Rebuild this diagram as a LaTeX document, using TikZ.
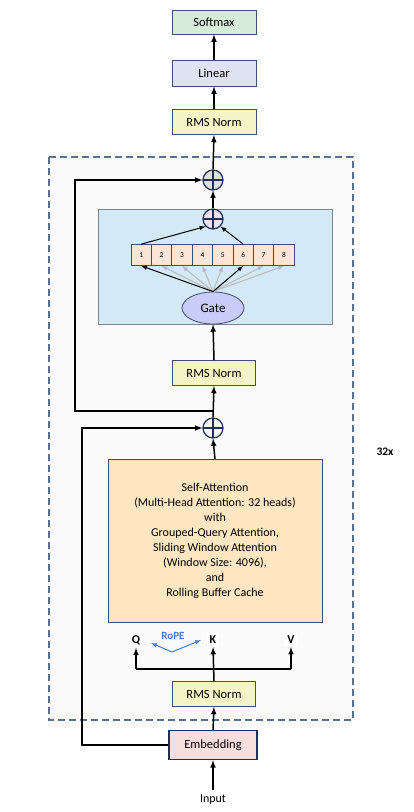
\documentclass[tikz,border=0pt]{standalone}
\usepackage{fontspec}
\setmainfont{Carlito}
\usepackage{tikz}
\usetikzlibrary{shapes.geometric}

\definecolor{blockline}{HTML}{3F4F70}
\definecolor{softmaxfill}{HTML}{D6ECD9}
\definecolor{linearfill}{HTML}{DFE2F3}
\definecolor{normfill}{HTML}{F4F4C6}
\definecolor{embedfill}{HTML}{F9DEDE}
\definecolor{attnfill}{HTML}{FDE6C1}
\definecolor{moefill}{HTML}{D3E9F6}
\definecolor{expertfill}{HTML}{FBE5D6}
\definecolor{gatefill}{HTML}{C9CCF6}
\definecolor{plusline}{HTML}{1F2F55}
\definecolor{ropeblue}{HTML}{4A7BD0}
\definecolor{layerline}{HTML}{5C6F8C}

\tikzset{
  block/.style={draw=blockline, line width=0.9pt, minimum width=84pt, minimum height=25pt,
    inner sep=0pt, font=\fontsize{12.5}{14}\selectfont},
  addnode/.style={circle, draw=plusline, line width=1.2pt, minimum size=20pt, inner sep=0pt,
    path picture={\draw[plusline, line width=1.2pt]
      (path picture bounding box.north) -- (path picture bounding box.south)
      (path picture bounding box.west) -- (path picture bounding box.east);}},
  expert/.style={draw=blockline, fill=expertfill, line width=0.7pt, minimum width=20.4pt,
    minimum height=21pt, inner sep=0pt, font=\fontsize{7.5}{8}\selectfont},
  flow/.style={line width=1.5pt, -latex},
  route/.style={line width=1pt, -latex},
  qkv/.style={fill=white, font=\fontsize{12}{14}\selectfont\bfseries, inner sep=3pt},
}

\begin{document}
\begin{tikzpicture}[x=1pt, y=-1pt]
  \useasboundingbox (0,0) rectangle (414,812);

  % Repeated layer
  \draw[draw=layerline, fill=gray!4, dash pattern=on 7pt off 4pt, line width=1.1pt] (49,157) rectangle (353,720);
  \node[font=\fontsize{11.5}{13}\selectfont\bfseries] (repeat) at (385,452) {32x};

  % Mixture of experts
  \draw[draw=blockline!70, fill=moefill, line width=0.8pt] (98,209) rectangle (332,324);

  % Head
  \node[block, fill=softmaxfill, minimum height=24pt] (softmax) at (214,22) {Softmax};
  \node[block, fill=linearfill, minimum height=26pt] (linear) at (214,73) {Linear};
  \node[block, fill=normfill] (norm3) at (214,122) {RMS Norm};

  % Residual adds
  \node[addnode, fill=gray!25] (topplus) at (213,180) {};
  \node[addnode, fill=violet!12] (moeplus) at (213,219) {};
  \node[addnode, fill=gray!6] (midplus) at (213,428) {};

  % Experts and gate
  \foreach \i in {1,...,8}
    \node[expert] (e\i) at ({120.8+20.4*\i},255) {\i};
  \node[ellipse, draw=blockline, fill=gatefill, line width=0.8pt, minimum width=62pt,
    minimum height=32pt, inner sep=0pt, font=\fontsize{13}{15}\selectfont] (gate) at (213,308) {Gate};

  \node[block, fill=normfill, minimum width=83pt] (norm2) at (214,373) {RMS Norm};

  % Attention block
  \node[block, fill=attnfill, minimum width=214pt, minimum height=163pt, align=center,
    font=\fontsize{12}{15}\selectfont] (attn) at (215,541)
    {Self-Attention\\(Multi-Head Attention: 32 heads)\\with\\Grouped-Query Attention,\\
     Sliding Window Attention\\(Window Size: 4096),\\and\\Rolling Buffer Cache};

  % Q K V
  \node[qkv] (q) at (136,640) {Q};
  \node[qkv] (k) at (213,640) {K};
  \node[qkv] (v) at (291,640) {V};
  \node[font=\fontsize{11}{13}\selectfont\bfseries, text=ropeblue] (rope) at (173,636) {RoPE};
  \coordinate (ropetip) at (172,652);
  \coordinate (ropeL) at (151,643);
  \coordinate (ropeR) at (201,640);
  \draw[ropeblue, line width=1pt, -latex] (ropetip) -- (ropeL);
  \draw[ropeblue, line width=1pt, -latex] (ropetip) -- (ropeR);

  \node[block, fill=normfill, minimum width=83pt] (norm1) at (214,694) {RMS Norm};
  \node[block, fill=embedfill, draw=plusline, line width=1.4pt, minimum width=88pt,
    minimum height=29pt] (embed) at (213,745) {Embedding};
  \node[font=\fontsize{12}{14}\selectfont, inner sep=5pt] (input) at (213,800) {Input};

  % Main path
  \draw[flow] (input.north) -- (embed.south);
  \draw[flow] (embed.north) -- (norm1.south);
  \draw[flow] (norm1.north) -- (k.south);
  \coordinate (qfork) at (136,669);
  \coordinate (vfork) at (291,669);
  \draw[line width=1.5pt] (qfork) -- (vfork);
  \draw[flow] (qfork) -- (q.south);
  \draw[flow] (vfork) -- (v.south);
  \draw[flow] (attn.north) -- (midplus.south);
  \draw[flow] (midplus.north) -- (norm2.south);
  \draw[flow] (norm2.north) -- (gate.south);

  % Routing
  \foreach \i in {2,3,4,5,7,8}
    \draw[route, gray!55] (gate.north) -- (e\i.south);
  \draw[route] (gate.north) -- (e1.south);
  \draw[route] (gate.north) -- (e6.south);
  \draw[route] (e1.north) -- (moeplus.south west);
  \draw[route] (e6.north) -- (moeplus.south east);

  \draw[flow] (moeplus.north) -- (topplus.south);
  \draw[flow] (topplus.north) -- (norm3.south);
  \draw[flow] (norm3.north) -- (linear.south);
  \draw[flow] (linear.north) -- (softmax.south);

  % Skip connections
  \coordinate (skipA) at (213,411);
  \coordinate (skipAcorner) at (75,411);
  \draw[flow] (skipA) -- (skipAcorner) |- (topplus.west);
  \coordinate (skipBcorner) at (82,745);
  \draw[flow] (embed.west) -- (skipBcorner) |- (midplus.west);
\end{tikzpicture}
\end{document}
